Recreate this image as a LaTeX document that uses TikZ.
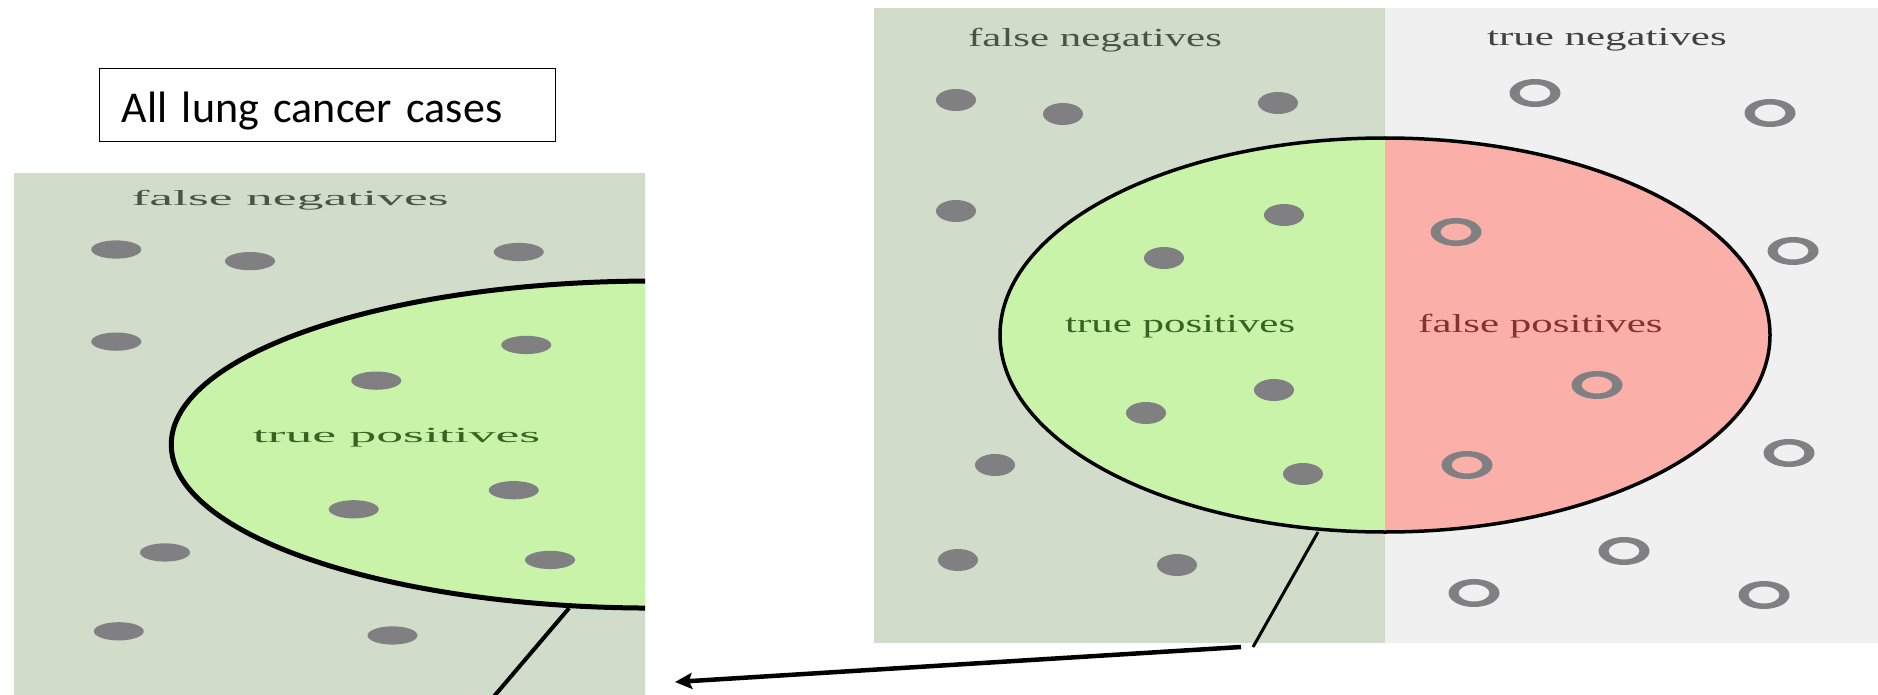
\documentclass[tikz,border=0pt]{standalone}
\usepackage{graphicx}
\usepackage{fontspec}
\setmainfont{Liberation Serif}
\newfontfamily\boxfont{Carlito}
\usetikzlibrary{arrows.meta}
\definecolor{fnbg}{RGB}{209,220,203}
\definecolor{tnbg}{RGB}{240,240,240}
\definecolor{tpfill}{RGB}{200,243,168}
\definecolor{fpfill}{RGB}{250,175,168}
\definecolor{dotgray}{RGB}{128,128,130}
\definecolor{fntext}{RGB}{70,85,70}
\definecolor{tntext}{RGB}{65,65,65}
\definecolor{tptext}{RGB}{55,100,35}
\definecolor{fptext}{RGB}{130,50,50}
\tikzset{
  lbl/.style={anchor=base west, inner sep=0pt, font=\fontsize{26}{30}\selectfont},
  titlebox/.style={draw=black, line width=1.3pt, anchor=north west, minimum height=73pt,
    inner xsep=22pt, inner ysep=0pt, text height=40pt, text depth=5pt, text width=412pt, align=left,
    font=\boxfont\fontsize{44}{50}\selectfont},
  bigarrow/.style={line width=4.5pt, -{Stealth[length=17pt,width=16pt,inset=3pt]}},
}
\newcommand\stretchtext[1]{\scalebox{1.65}[1]{#1}}
% #1 name prefix, #2 outline width, #3 lens line width
\newcommand\drawpanel[3]{%
  \fill[fnbg] (874,8) rectangle (1385,643);
  \fill[tnbg] (1385,8) rectangle (1878,643);
  \begin{scope}
    \clip (1385,335) ellipse [x radius=385, y radius=197];
    \fill[tpfill] (990,130) rectangle (1385,540);
    \fill[fpfill] (1385,130) rectangle (1780,540);
  \end{scope}
  \draw[line width=#2] (1385,335) ellipse [x radius=385, y radius=197];
  \foreach \x/\y in {956/100,1063/114,1278/103,956/211,1284/215,1164/258,1274/390,1146/413,995/465,1303/474,958/560,1177/565}
    \fill[dotgray] (\x,\y) ellipse [x radius=20, y radius=11];
  \foreach \x/\y in {1535/93,1770/113,1456/232,1793/251,1597/385,1467/465,1789/453,1624/551,1474/593,1764/595}
    \fill[dotgray, even odd rule] (\x,\y) ellipse [x radius=25.5, y radius=14] (\x,\y) ellipse [x radius=15.5, y radius=8.5];
  \node[lbl, text=fntext] (#1fn) at (968,47) {\stretchtext{false negatives}};
  \node[lbl, text=tntext] (#1tn) at (1487,46) {\stretchtext{true negatives}};
  \node[lbl, text=tptext] (#1tp) at (1065,332) {\stretchtext{true positives}};
  \node[lbl, text=fptext] (#1fp) at (1418,332) {\stretchtext{false positives}};
  \coordinate (#1lensA) at (1318,532);
  \coordinate (#1lensB) at (1253,647);
  \draw[line width=#3] (#1lensA) -- (#1lensB);
}
\begin{document}
\begin{tikzpicture}[x=1pt,y=-1pt]
\useasboundingbox[fill=white] (0,0) rectangle (1878,695);
\node[titlebox] (title) at (99,68) {All lung cancer cases};
% magnified view (left)
\begin{scope}
  \clip (13,174) rectangle (645,695);
  \begin{scope}[shift={(-1078.75,166.5)}, xscale=1.25, yscale=0.83, transform shape]
    \drawpanel{L}{5pt}{4pt}
  \end{scope}
\end{scope}
% full view (right)
\drawpanel{R}{3.5pt}{3pt}
\coordinate (arrowStart) at (1241,647);
\coordinate (arrowTip) at (675,682);
\draw[bigarrow] (arrowStart) -- (arrowTip);
\end{tikzpicture}
\end{document}
